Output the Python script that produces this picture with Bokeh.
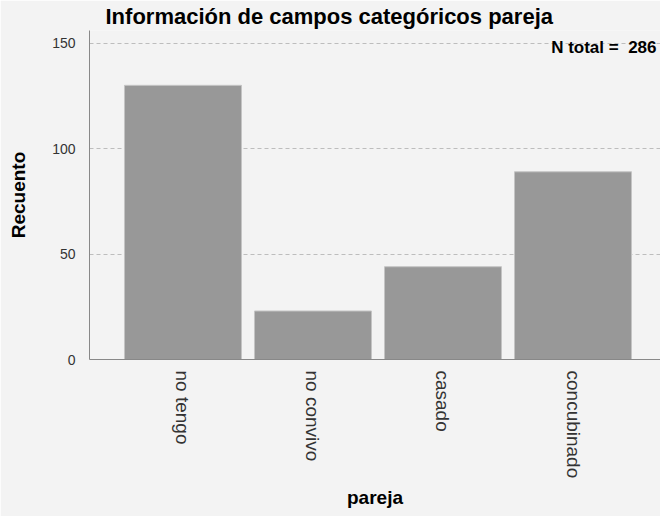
import math
from bokeh.plotting import figure
from bokeh.models import Range1d, FixedTicker, Label, ColumnDataSource
from bokeh.embed import file_html
from bokeh.resources import INLINE

# Data
categories = ["no tengo", "no convivo", "casado", "concubinado"]
counts = [130, 23, 44, 89]
y_ticks = [0, 50, 100, 150]
x_title = "pareja"
y_title = "Recuento"
chart_title = "Información de campos categóricos pareja"

FONT = "Liberation Sans"
BG = "#f3f3f3"

W, H = 660, 516
LEFT, TOP, BOTTOM = 89, 30, 157

positions = list(range(len(categories)))
source = ColumnDataSource(dict(x=positions, top=counts, cat=categories))

p = figure(width=W, height=H, output_backend="svg", toolbar_location=None,
           x_range=Range1d(-0.719, 3.673), y_range=Range1d(0, 156),
           min_border_left=LEFT, min_border_right=0, min_border_top=TOP,
           min_border_bottom=BOTTOM)

p.vbar(x="x", top="top", width=0.9, source=source,
       fill_color="#989898", line_color="#c4c4c4", line_width=1)

# Title
p.title.text = chart_title
p.title.text_font = FONT
p.title.text_font_size = "22px"
p.title.text_font_style = "bold"
p.title.text_color = "#000000"
p.title.align = "left"
p.title.offset = 16
p.title.standoff = 3

p.background_fill_color = BG
p.border_fill_color = BG
p.outline_line_color = None

# Y axis
p.yaxis.ticker = FixedTicker(ticks=y_ticks)
p.yaxis.axis_label = y_title
p.yaxis.axis_label_text_font = FONT
p.yaxis.axis_label_text_font_size = "19px"
p.yaxis.axis_label_text_font_style = "bold"
p.yaxis.axis_label_text_color = "#000000"
p.yaxis.axis_label_standoff = 20
p.yaxis.major_label_text_font = FONT
p.yaxis.major_label_text_font_size = "14px"
p.yaxis.major_label_text_color = "#333333"
p.yaxis.major_label_standoff = 8
p.yaxis.major_tick_line_color = None
p.yaxis.minor_tick_line_color = None
p.yaxis.axis_line_color = "#888888"

# X axis
p.xaxis.ticker = FixedTicker(ticks=positions)
p.xaxis.major_label_overrides = {i: c for i, c in zip(positions, categories)}
p.xaxis.major_label_orientation = -math.pi / 2
p.xaxis.major_label_text_font = FONT
p.xaxis.major_label_text_font_size = "19px"
p.xaxis.major_label_text_color = "#333333"
p.xaxis.major_label_standoff = 5
p.xaxis.major_tick_line_color = None
p.xaxis.minor_tick_line_color = None
p.xaxis.axis_line_color = "#888888"
p.xaxis.axis_label = x_title
p.xaxis.axis_label_text_font = FONT
p.xaxis.axis_label_text_font_size = "19px"
p.xaxis.axis_label_text_font_style = "bold"
p.xaxis.axis_label_text_color = "#000000"
p.xaxis.axis_label_standoff = 6

# Grid
p.xgrid.grid_line_color = None
p.ygrid.ticker = FixedTicker(ticks=y_ticks[1:])
p.ygrid.grid_line_color = "#bdbdbd"
p.ygrid.grid_line_dash = "4 3"
p.ygrid.grid_line_width = 1

# N total
n_total = sum(counts)
p.add_layout(Label(x=567, y=312, x_units="screen", y_units="screen",
                   text=f"N total =\u00a0 {n_total}", text_align="right", text_baseline="middle",
                   text_font=FONT, text_font_size="17px", text_font_style="bold",
                   text_color="#000000"))

open("out.html", "w").write(file_html(p, INLINE))
